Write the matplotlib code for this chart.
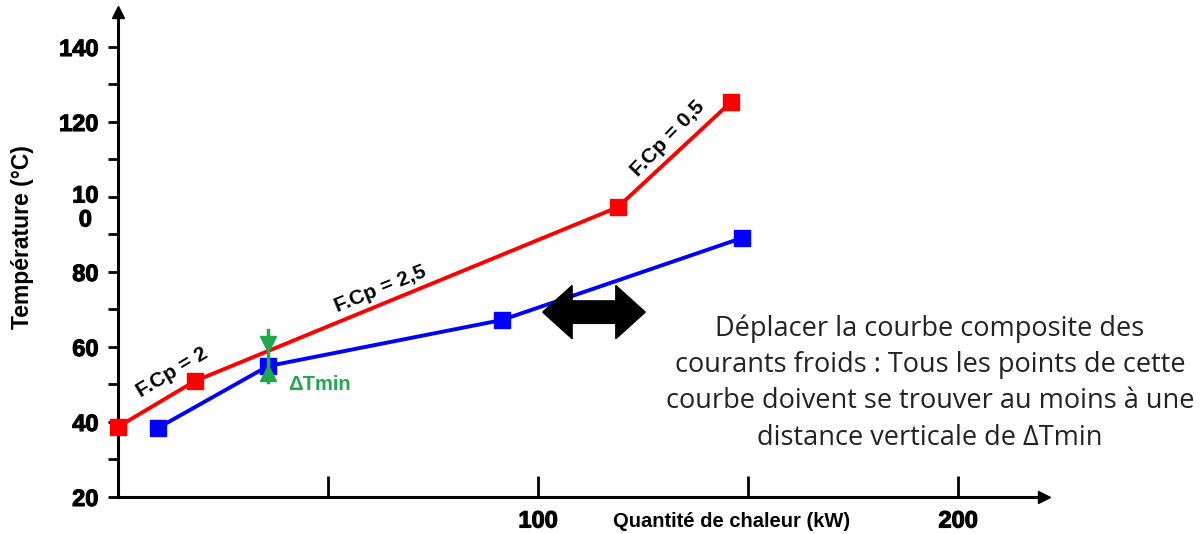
import numpy as np
import matplotlib
matplotlib.use('Agg')
import matplotlib.pyplot as plt
import matplotlib.patheffects as pe
from matplotlib.patches import Polygon
from matplotlib.transforms import ScaledTranslation

# Courbes composites
chaud_q = [0, 18.3, 119, 145.9]
chaud_t = [38.7, 50.9, 97.3, 125.3]
froid_q = [9.5, 35.7, 91.4, 148.6]
froid_t = [38.4, 54.9, 67.2, 89.1]

yticks_major = [20, 40, 60, 80, 100, 120, 140]
ylabels = ['20', '40', '60', '80', '10\n0', '120', '140']
yticks_minor = [30, 50, 70, 90, 110, 130]
xticks = [50, 100, 150, 200]
xlabels = ['', '100', '', '200']

plt.rcParams['font.family'] = ['Liberation Sans', 'DejaVu Sans']
gras = [pe.withStroke(linewidth=0.8, foreground='black')]

fig = plt.figure(figsize=(12, 5.34), dpi=100)
ax = fig.add_axes([0.0983, 0.0693, 0.772, 0.908])
ax.set_xlim(0, 220.5)
ax.set_ylim(20, 149.3)

for s in ['top', 'right']:
    ax.spines[s].set_visible(False)
for s in ['left', 'bottom']:
    ax.spines[s].set_linewidth(2.2)
ax.plot(1, 20, '>k', ms=9, transform=ax.get_yaxis_transform(which='grid'), clip_on=False)
ax.plot(0, 1, '^k', ms=9, transform=ax.get_xaxis_transform(which='grid'), clip_on=False)

ax.set_yticks(yticks_major)
ax.set_yticklabels(ylabels, fontsize=17, fontweight='bold')
ax.set_yticks(yticks_minor, minor=True)
ax.tick_params(axis='y', which='both', direction='out', length=7, width=2, pad=7)
for lab in ax.get_yticklabels():
    lab.set_path_effects(gras)
lab100 = ax.get_yticklabels()[4]
lab100.set_verticalalignment('top')
lab100.set_multialignment('center')
lab100.set_linespacing(1.05)
lab100.set_transform(lab100.get_transform() + ScaledTranslation(0, 9/72, fig.dpi_scale_trans))

ax.set_xticks(xticks)
ax.set_xticklabels(xlabels, fontsize=17, fontweight='bold')
ax.tick_params(axis='x', direction='in', length=15, width=2, pad=9)
for lab in ax.get_xticklabels():
    lab.set_path_effects(gras)

ax.set_xlabel('Quantité de chaleur (kW)', fontsize=14.5, fontweight='bold')
ax.xaxis.set_label_coords(146 / 220.5, -0.03)
ax.xaxis.label.set_verticalalignment('top')
fig.text(0.019, 0.556, 'Température (°C)', rotation=90, fontsize=16.5, fontweight='bold',
         ha='center', va='center')

ax.plot(chaud_q, chaud_t, color='#ff0000', lw=2.8, marker='s', ms=11, clip_on=False, zorder=3)
ax.plot(froid_q, froid_t, color='#0000ff', lw=2.8, marker='s', ms=11, clip_on=False, zorder=3)

ax.text(13, 53.2, 'F.Cp = 2', rotation=31, fontsize=15, fontweight='bold', ha='center', va='center')
ax.text(62.4, 75.5, 'F.Cp = 2,5', rotation=22, fontsize=15, fontweight='bold', ha='center', va='center')
ax.text(131, 115.5, 'F.Cp = 0,5', rotation=46, fontsize=15, fontweight='bold', ha='center', va='center')

# Delta Tmin
vert = '#1fa84f'
ax.plot([35.7, 35.7], [64.5, 50.7], color=vert, lw=2.5, zorder=5)
ax.plot(35.7, 60.7, 'v', color=vert, ms=12, zorder=5)
ax.plot(35.7, 53.1, '^', color=vert, ms=12, zorder=5)
ax.text(40.4, 49.9, 'ΔTmin', color=vert, fontsize=14.5, fontweight='bold', va='center')

# double fleche noire
cx, cy = 113.3, 69.3
half_len, head_len = 12.2, 7.0
body_h, head_h = 3.0, 7.1
pts = [(cx - half_len, cy), (cx - half_len + head_len, cy + head_h),
       (cx - half_len + head_len, cy + body_h), (cx + half_len - head_len, cy + body_h),
       (cx + half_len - head_len, cy + head_h), (cx + half_len, cy),
       (cx + half_len - head_len, cy - head_h), (cx + half_len - head_len, cy - body_h),
       (cx - half_len + head_len, cy - body_h), (cx - half_len + head_len, cy - head_h)]
ax.add_patch(Polygon(pts, closed=True, facecolor='black', edgecolor='black', lw=1, zorder=4))

fig.text(0.775, 0.283,
         'Déplacer la courbe composite des\ncourants froids : Tous les points de cette\n'
         'courbe doivent se trouver au moins à une\ndistance verticale de ΔTmin',
         fontsize=19.5, family=['Open Sans', 'DejaVu Sans'], color='#222222',
         ha='center', va='center', linespacing=1.4)

fig.savefig('out.png', dpi=100)
